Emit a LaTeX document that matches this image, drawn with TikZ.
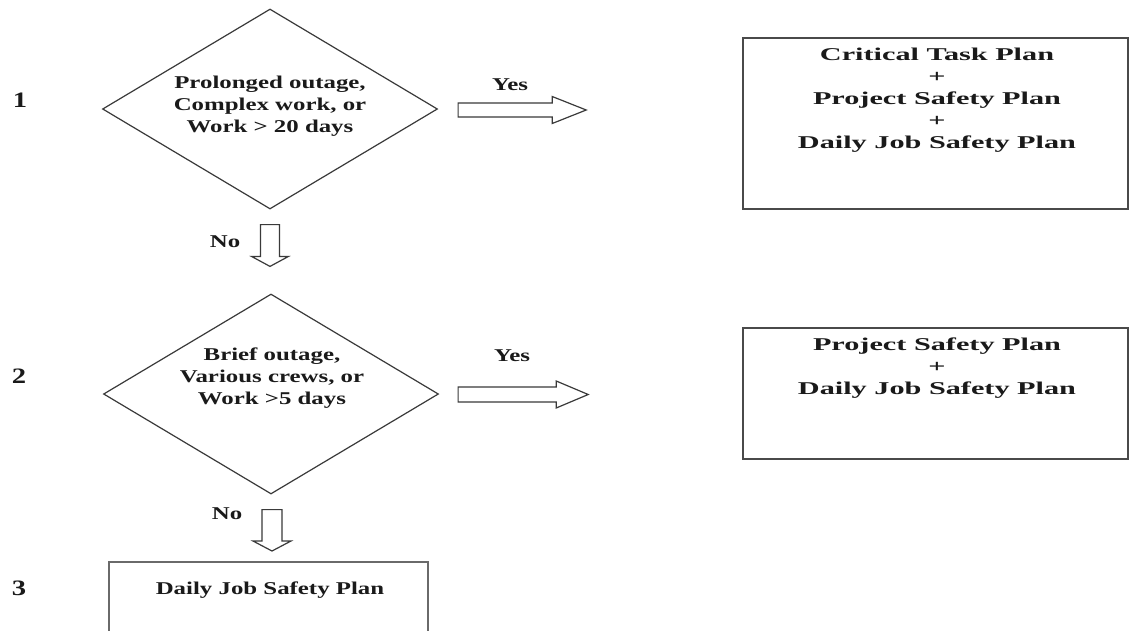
\documentclass[tikz,border=0pt]{standalone}
\usepackage{fontspec}
\setmainfont{Liberation Serif}
\usepackage{graphicx}
\usetikzlibrary{shapes.geometric,calc}
\definecolor{ln}{HTML}{3A3A3A}
\definecolor{bx}{HTML}{4A4A4A}
\definecolor{bxl}{HTML}{6A6A6A}
\definecolor{txt}{HTML}{1A1A1A}
\newcommand\wideL[1]{\scalebox{1.38}[1]{\begin{tabular}{@{}c@{}}#1\end{tabular}}}
\newcommand\wideR[1]{\scalebox{1.68}[1]{\begin{tabular}{@{}c@{}}#1\end{tabular}}}
\newcommand\harrow[5]{\draw[barrow] ($(#1)+(0,-#3)$) -- ($(#2)+(-#5,-#3)$) -- ($(#2)+(-#5,-#4)$) -- (#2) -- ($(#2)+(-#5,#4)$) -- ($(#2)+(-#5,#3)$) -- ($(#1)+(0,#3)$) -- cycle;}
\newcommand\varrow[5]{\draw[barrow] ($(#1)+(-#3,0)$) -- ($(#2)+(-#3,-#5)$) -- ($(#2)+(-#4,-#5)$) -- (#2) -- ($(#2)+(#4,-#5)$) -- ($(#2)+(#3,-#5)$) -- ($(#1)+(#3,0)$) -- cycle;}
\tikzset{
  lbl/.style={font=\fontsize{18}{22}\selectfont\bfseries, text=txt, inner sep=0pt, align=center},
  numlbl/.style={font=\fontsize{22}{26}\selectfont\bfseries, text=txt, inner sep=0pt},
  diam/.style={draw=ln, line width=1.2pt, shape=diamond, minimum width=335pt, minimum height=200pt, inner sep=0pt},
  planbox/.style={draw=bx, line width=1.6pt, rectangle, inner sep=0pt},
  barrow/.style={draw=ln, line width=1.2pt, fill=white, line join=miter},
}
\begin{document}
\begin{tikzpicture}[x=1pt,y=-1pt]
\useasboundingbox (0,0) rectangle (1133,630);
\fill[white] (0,0) rectangle (1133,630);
\clip (0,0) rectangle (1133,630);

% step numbers
\node[numlbl] (n1) at (20,100) {\scalebox{1.3}[1]{1}};
\node[numlbl] (n2) at (19,376) {\scalebox{1.3}[1]{2}};
\node[numlbl] (n3) at (19,588) {\scalebox{1.3}[1]{3}};

% decisions
\node[diam] (d1) at (270,109) {};
\node[diam] (d2) at (271,394) {};
\node[lbl] (d1t) at (270,106) {\wideL{Prolonged outage,\\Complex work, or\\Work > 20 days}};
\node[lbl] (d2t) at (272,378) {\wideL{Brief outage,\\Various crews, or\\Work >5 days}};

% plan boxes
\node[planbox, minimum width=385pt, minimum height=171pt] (b1) at (935.5,123.5) {};
\node[planbox, minimum width=385pt, minimum height=131pt] (b2) at (935.5,393.5) {};
\node[planbox, draw=bxl, line width=2pt, minimum width=319pt, minimum height=138pt] (b3) at (268.5,631) {};
\node[lbl] (b1t) at (937,100) {\wideR{Critical Task Plan\\+\\Project Safety Plan\\+\\Daily Job Safety Plan}};
\node[lbl] (b2t) at (937,368) {\wideR{Project Safety Plan\\+\\Daily Job Safety Plan}};
\node[lbl] (b3t) at (270,590) {\wideL{Daily Job Safety Plan}};

% connector end points
\coordinate (y1s) at ($(d1.east)+(20,1)$);
\coordinate (y1e) at ($(b1.west)+(-156,-13.5)$);
\coordinate (y2s) at ($(d2.east)+(19,0.5)$);
\coordinate (y2e) at ($(b2.west)+(-154,1)$);
\coordinate (n1s) at ($(d1.south)+(0,15)$);
\coordinate (n1e) at ($(d2.north)+(-1,-27)$);
\coordinate (n2s) at ($(d2.south)+(1,15)$);
\coordinate (n2e) at ($(b3.north)+(3.5,-10)$);

% block arrows
\harrow{y1s}{y1e}{7}{13.5}{34}
\harrow{y2s}{y2e}{7.5}{13.5}{32}
\varrow{n1s}{n1e}{9.5}{18.5}{10}
\varrow{n2s}{n2e}{10}{19}{10}

% arrow labels
\node[lbl] (yes1) at (510,86) {\wideL{Yes}};
\node[lbl] (yes2) at (512,357) {\wideL{Yes}};
\node[lbl] (no1) at (225,243) {\wideL{No}};
\node[lbl] (no2) at (227,515) {\wideL{No}};
\end{tikzpicture}
\end{document}
